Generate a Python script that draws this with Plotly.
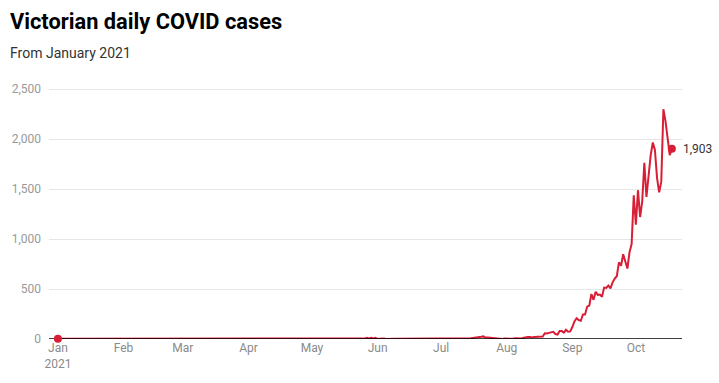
import pandas as pd
import plotly.graph_objects as go

# Daily new COVID cases in Victoria, 1 Jan 2021 - 18 Oct 2021
jan_cases = [3, 3, 3, 3, 2, 0, 1, 0, 0, 0, 0, 0, 0, 0, 0, 0, 0, 0, 0, 0, 0, 0, 0, 0, 0, 0, 0, 0, 0, 0, 0]
feb_cases = [0, 0, 0, 1, 0, 0, 0, 0, 1, 1, 1, 5, 2, 3, 2, 1, 0, 0, 0, 0, 0, 0, 0, 0, 0, 1, 0, 0]
mar_cases = [0] * 31
apr_cases = [0] * 30
may_cases = [0] * 23 + [1, 4, 6, 12, 5, 11, 5, 11]
jun_cases = [1, 3, 5, 4, 0, 2, 2, 1, 2, 2, 2, 4, 2, 1, 0, 0, 0, 0, 0, 0, 0, 0, 0, 1, 2, 0, 0, 0, 0, 0]
jul_cases = [0, 0, 0, 0, 0, 0, 0, 0, 0, 0, 0, 0, 2, 2, 7, 10, 12, 16, 13, 22, 26, 14, 14, 12, 11, 10, 11, 8, 0, 1, 4]
aug_cases = [2, 3, 0, 2, 8, 6, 11, 6, 13, 20, 20, 21, 15, 21, 22, 25, 24, 24, 57, 55, 61, 65, 71, 50, 45, 80, 79, 64, 92, 73, 76]
sep_cases = [120, 176, 208, 190, 183, 246, 246, 324, 334, 450, 392, 473, 441, 445, 423, 514, 510, 535, 507, 567,
             603, 628, 766, 733, 847, 779, 705, 867, 950, 1438]
oct_cases = [1143, 1488, 1220, 1377, 1763, 1420, 1638, 1838, 1965, 1890, 1612, 1466, 1571, 2297, 2179, 1993, 1838, 1903]

cases = jan_cases + feb_cases + mar_cases + apr_cases + may_cases + jun_cases + jul_cases + aug_cases + sep_cases + oct_cases
dates = pd.date_range("2021-01-01", periods=len(cases), freq="D")

title_text = "Victorian daily COVID cases"
subtitle_text = "From January 2021"
y_ticks = [0, 500, 1000, 1500, 2000, 2500]
y_tick_labels = ["0", "500", "1,000", "1,500", "2,000", "2,500"]
x_ticks = pd.date_range("2021-01-01", "2021-10-01", freq="MS")
x_tick_labels = ["Jan<br>2021", "Feb", "Mar", "Apr", "May", "Jun", "Jul", "Aug", "Sep", "Oct"]
x_range = ["2020-12-27 19:00", "2021-10-22 19:00"]

RED = "#d81e36"

W, H = 719, 383
L, R, T, B = 46, 37, 87, 42
pw, ph = W - L - R, H - T - B


def paper_x(px):
    return (px - L) / pw


def paper_y(py):
    return (H - B - py) / ph


fig = go.Figure()
fig.add_trace(go.Scatter(
    x=dates, y=cases, mode="lines",
    line=dict(color=RED, width=2),
    hoverinfo="skip", showlegend=False,
))
# black baseline at zero, drawn over the red line but under the end dots
fig.add_trace(go.Scatter(
    x=x_range, y=[0, 0], mode="lines",
    line=dict(color="#000000", width=1.6),
    hoverinfo="skip", showlegend=False,
))
fig.add_trace(go.Scatter(
    x=[dates[0], dates[-1]], y=[cases[0], cases[-1]], mode="markers",
    marker=dict(color=RED, size=8),
    cliponaxis=False, hoverinfo="skip", showlegend=False,
))

fig.add_annotation(
    x=dates[-1], y=cases[-1], xref="x", yref="y",
    text=f"{cases[-1]:,}", showarrow=False,
    xanchor="left", yanchor="middle", xshift=9,
    font=dict(family="Roboto", size=12, color="#333333"),
)

fig.add_annotation(
    x=paper_x(5), y=paper_y(21), xref="paper", yref="paper", text=f"<b>{title_text}</b>",
    showarrow=False, xanchor="left", yanchor="middle",
    font=dict(family="Roboto", size=21.8, color="#000000"),
)
fig.add_annotation(
    x=paper_x(5), y=paper_y(53), xref="paper", yref="paper", text=subtitle_text,
    showarrow=False, xanchor="left", yanchor="middle",
    font=dict(family="Roboto", size=14, color="#333333"),
)

fig.update_layout(
    width=W, height=H,
    margin=dict(l=L, r=R, t=T, b=B),
    paper_bgcolor="white", plot_bgcolor="white",
    font=dict(family="Roboto", size=12, color="#999999"),
    xaxis=dict(
        range=x_range,
        tickvals=x_ticks, ticktext=x_tick_labels,
        showgrid=False, zeroline=False, showline=False,
        ticks="", tickfont=dict(size=12, color="#8a8a8a"),
    ),
    yaxis=dict(
        range=[0, 2520],
        tickvals=y_ticks, ticktext=y_tick_labels,
        showgrid=True, gridcolor="#e6e6e6", gridwidth=1,
        zeroline=False,
        showline=False, ticks="", ticklabelstandoff=7,
        tickfont=dict(size=12, color="#999999"),
    ),
)

fig.write_html(
    "out.html",
    config={"displayModeBar": False, "staticPlot": True},
    post_script="document.body.style.margin='0';",
)
